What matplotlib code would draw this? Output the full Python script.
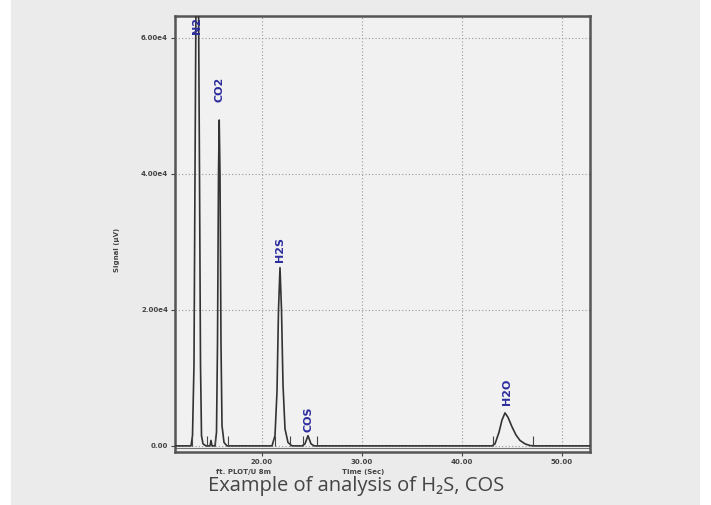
import matplotlib.pyplot as plt
from matplotlib.patches import Rectangle

# chromatogram trace (time in sec, signal in uV)
time = [11.3, 12.9, 13.05, 13.2, 13.3, 13.4, 13.5, 13.65, 13.75, 13.85, 13.95, 14.1, 14.4,
        14.8, 14.9, 15.0, 15.3, 15.45, 15.55, 15.65, 15.72, 15.8, 15.9, 16.0, 16.2, 16.5,
        21.0, 21.3, 21.5, 21.65, 21.8, 21.95, 22.1, 22.3, 22.6, 23.0,
        24.0, 24.3, 24.6, 24.9, 25.2,
        43.0, 43.3, 43.7, 44.0, 44.3, 44.6, 45.0, 45.4, 45.8, 46.3, 46.8, 47.2, 52.8]
signal = [0, 0, 1500, 12000, 40000, 66000, 66000, 66000, 40000, 12000, 1500, 300, 0,
          0, 800, 0, 0, 2000, 15000, 40000, 47900, 40000, 15000, 3000, 500, 0,
          0, 1500, 8000, 20000, 26200, 20000, 9000, 2500, 500, 0,
          0, 300, 1500, 300, 0,
          0, 300, 2000, 3800, 4850, 4200, 2800, 1600, 800, 300, 50, 0, 0]

# integration markers along the baseline
marker_t = [13.0, 14.5, 15.3, 16.6, 21.3, 22.8, 24.1, 25.5, 43.1, 47.1]

peak_names = ["N2", "CO2", "H2S", "COS", "H2O"]
peak_t = [13.5, 15.75, 21.8, 24.6, 44.5]
label_y = [60600, 50600, 27000, 2100, 6000]

x_ticks = [20, 30, 40, 50]
x_ticklabels = ["20.00", "30.00", "40.00", "50.00"]
y_ticks = [0, 20000, 40000, 60000]
y_ticklabels = ["0.00", "2.00e4", "4.00e4", "6.00e4"]

fig = plt.figure(figsize=(7.11, 5.05), dpi=100)
fig.patch.set_facecolor("white")
fig.patches.append(Rectangle((11 / 711, 0), 689 / 711, 1, transform=fig.transFigure,
                             facecolor="#ebebeb", edgecolor="none", zorder=-5))

ax = fig.add_axes([175 / 711, 1 - 452 / 505, 415 / 711, 436 / 505])
ax.set_facecolor("#f1f1f1")
ax.plot(time, signal, color="#333333", lw=1.2, zorder=3)
ax.vlines(marker_t, 0, 1400, color="#444444", lw=0.8, zorder=3)
ax.axhline(-350, color="#777777", lw=0.8, zorder=2)

for name, t, y in zip(peak_names, peak_t, label_y):
    ax.text(t, y, name, rotation=90, ha="center", va="bottom", fontsize=8,
            fontweight="bold", color="#2d2d9e", clip_on=False, zorder=4)

ax.set_xlim(11.3, 52.8)
ax.set_ylim(-900, 63200)
ax.set_xticks(x_ticks)
ax.set_xticklabels(x_ticklabels, fontweight="bold")
ax.set_yticks(y_ticks)
ax.set_yticklabels(y_ticklabels, fontweight="bold")
ax.tick_params(labelsize=5, colors="#444444", length=3, width=0.8, pad=2)
ax.grid(True, color="#999999", lw=0.8, linestyle=(0, (1, 2)))
for s in ax.spines.values():
    s.set_color("#555555")
    s.set_linewidth(1.8)

fig.text(117 / 711, 1 - 250 / 505, "Signal (µV)", rotation=90, ha="center", va="center",
         fontsize=5, color="#444444", fontweight="bold")
fig.text(243 / 711, 1 - 472 / 505, "ft. PLOT/U 8m", ha="center", va="center",
         fontsize=5, color="#444444", fontweight="bold")
fig.text(363 / 711, 1 - 472 / 505, "Time (Sec)", ha="center", va="center",
         fontsize=5, color="#444444", fontweight="bold")
fig.text(356 / 711, 1 - 486 / 505, "Example of analysis of H\u2082S, COS", ha="center",
         va="center", fontsize=14.5, color="#444444", family=["Open Sans", "DejaVu Sans"])

fig.savefig("out.png", dpi=100)
